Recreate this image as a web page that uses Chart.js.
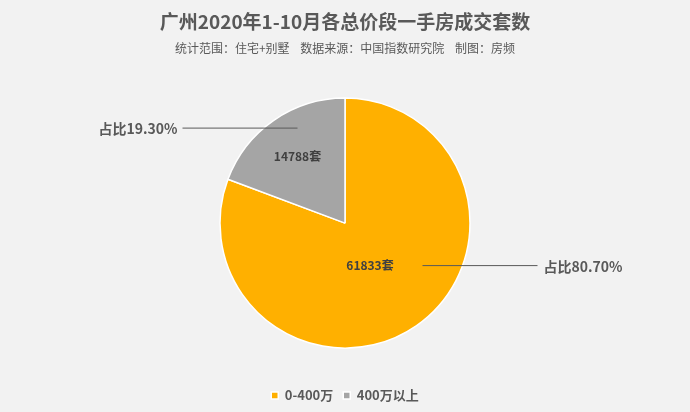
<!DOCTYPE html>
<html>
<head>
<meta charset="utf-8">
<script src="https://cdn.jsdelivr.net/npm/chart.js@4"></script>
<style>
  html, body { margin: 0; padding: 0; background: #f2f2f2; }
  #wrap { width: 690px; height: 412px; }
</style>
</head>
<body>
<div id="wrap"><canvas id="grafico" width="690" height="412"></canvas></div>
<script>
const categorias = ["0-400万", "400万以上"];
const valores = [61833, 14788];
const porcentajes = ["80.70%", "19.30%"];
const colores = ["#ffb000", "#a5a5a5"];

const fuente = '"Noto Sans CJK SC", "Noto Sans", sans-serif';

// posiciones de etiquetas relativas al centro, en unidades del radio
const posValor = [[0.20, 0.34], [-0.38, -0.53]];
const posLinea = [[0.62, 0.34, 1.54, 0.34], [-1.30, -0.76, -0.38, -0.76]];

const etiquetasPlugin = {
  id: "etiquetas",
  afterDatasetsDraw(chart) {
    const { ctx } = chart;
    const meta = chart.getDatasetMeta(0);
    ctx.save();
    meta.data.forEach((arc, i) => {
      const r = arc.outerRadius;
      const cx = arc.x, cy = arc.y;
      // valor dentro del sector
      ctx.font = "bold 12px " + fuente;
      ctx.fillStyle = "#404040";
      ctx.textAlign = "center";
      ctx.textBaseline = "middle";
      ctx.fillText(valores[i] + "套", cx + posValor[i][0] * r, cy + posValor[i][1] * r);
      // línea guía
      const l = posLinea[i];
      ctx.strokeStyle = "#595959";
      ctx.lineWidth = 1;
      ctx.beginPath();
      ctx.moveTo(cx + l[0] * r, cy + l[1] * r);
      ctx.lineTo(cx + l[2] * r, cy + l[3] * r);
      ctx.stroke();
      // porcentaje
      ctx.font = "bold 14px " + fuente;
      ctx.fillStyle = "#595959";
      if (i === 0) {
        ctx.textAlign = "left";
        ctx.fillText("占比" + porcentajes[i], cx + l[2] * r + 6, cy + l[3] * r + 1);
      } else {
        ctx.textAlign = "right";
        ctx.fillText("占比" + porcentajes[i], cx + l[0] * r - 5, cy + l[1] * r + 1);
      }
    });
    ctx.restore();
  }
};

const fondoPlugin = {
  id: "fondo",
  beforeDraw(chart) {
    const { ctx, width, height } = chart;
    ctx.save();
    ctx.fillStyle = "#f2f2f2";
    ctx.fillRect(0, 0, width, height);
    ctx.restore();
  }
};

const canva = document.getElementById("grafico").getContext("2d");
window.miGrafico = new Chart(canva, {
  type: "pie",
  data: {
    labels: categorias,
    datasets: [{
      data: valores,
      backgroundColor: colores,
      borderColor: "#ffffff",
      borderWidth: 1.5,
      radius: 125
    }]
  },
  options: {
    responsive: false,
    animation: false,
    layout: { padding: 0 },
    plugins: {
      title: {
        display: true,
        text: "广州2020年1-10月各总价段一手房成交套数",
        color: "#595959",
        font: { family: fuente, size: 19, weight: "bold" },
        padding: { top: 10, bottom: 8 }
      },
      subtitle: {
        display: true,
        text: "统计范围：住宅+别墅    数据来源：中国指数研究院    制图：房频",
        color: "#595959",
        font: { family: fuente, size: 12 },
        padding: { bottom: 12 }
      },
      legend: {
        position: "bottom",
        labels: {
          usePointStyle: true,
          pointStyle: "rect",
          boxWidth: 7,
          boxHeight: 7,
          color: "#595959",
          font: { family: fuente, size: 13, weight: "bold" },
          padding: 10
        }
      },
      tooltip: { enabled: false }
    }
  },
  plugins: [fondoPlugin, etiquetasPlugin]
});
</script>
</body>
</html>
